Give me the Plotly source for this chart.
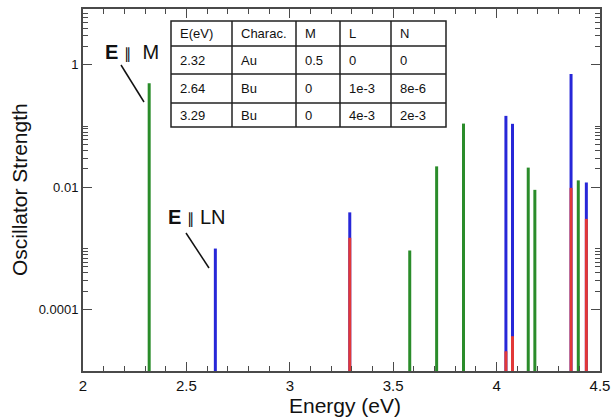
import plotly.graph_objects as go

# ---- data ----
energies = [2.32, 2.64, 3.29, 3.58, 3.71, 3.84, 4.045, 4.077, 4.153, 4.185, 4.36, 4.395, 4.434]
osc_M = [0.5, 0, 0, 9.3e-4, 0.022, 0.11, 0, 0, 0.021, 0.0091, 0, 0.013, 0]
osc_L = [0, 1.0e-3, 3.9e-3, 0, 0, 0, 0.147, 0.109, 0, 0, 0.71, 0, 0.012]
osc_N = [0, 8e-6, 1.5e-3, 0, 0, 0, 2.1e-5, 3.7e-5, 0, 0, 0.0098, 0, 3.05e-3]

table_header = ["E(eV)", "Charac.", "M", "L", "N"]
table_rows = [
    ["2.32", "Au", "0.5", "0", "0"],
    ["2.64", "Bu", "0", "1e-3", "8e-6"],
    ["3.29", "Bu", "0", "4e-3", "2e-3"],
]

x_tickvals = [2, 2.5, 3, 3.5, 4, 4.5]
x_ticktext = ["2", "2.5", "3", "3.5", "4", "4.5"]
y_tickvals = [1, 0.01, 0.0001]
y_ticktext = ["1", "0.01", "0.0001"]
x_title = "Energy (eV)"
y_title = "Oscillator Strength"

Y_BASE = 1e-5
FONT = "Liberation Sans, Arial, Helvetica, sans-serif"
COLORS = {"M": "#2a8c2a", "L": "#2727d8", "N": "#e23838"}

W, H = 614, 418
L_M, R_M, T_M, B_M = 83, 14, 9, 47
PW, PH = W - L_M - R_M, H - T_M - B_M


def px(x):
    return (x - L_M) / PW


def py(y):
    return (H - B_M - y) / PH


def sticks(vals):
    xs, ys = [], []
    for e, v in zip(energies, vals):
        if v and v > 0:
            xs += [e, e, None]
            ys += [Y_BASE, v, None]
    return xs, ys


fig = go.Figure()
for name, vals in [("M", osc_M), ("L", osc_L), ("N", osc_N)]:
    xs, ys = sticks(vals)
    fig.add_trace(go.Scatter(x=xs, y=ys, mode="lines", name=name,
                             line=dict(color=COLORS[name], width=3),
                             showlegend=False, hoverinfo="skip"))

axis_col = "#4a4a4a"
fig.update_xaxes(range=[2, 4.5], tickvals=x_tickvals, ticktext=x_ticktext,
                 ticks="inside", ticklen=9, tickwidth=1.3, tickcolor=axis_col,
                 minor=dict(dtick=0.1, tick0=2, ticks="inside", ticklen=5,
                            tickwidth=1.3, tickcolor=axis_col),
                 showline=True, linecolor=axis_col, linewidth=2, mirror="ticks",
                 showgrid=False, zeroline=False, automargin=False,
                 tickfont=dict(family=FONT, size=15, color="#111"))

minor_y = [m * 10 ** k for k in (0, -2, -4) for m in range(2, 10)] + [0.1, 0.001]
fig.update_yaxes(type="log", range=[-5, 0.913], tickvals=y_tickvals, ticktext=y_ticktext,
                 ticks="inside", ticklen=9, tickwidth=1.3, tickcolor=axis_col,
                 minor=dict(tickvals=minor_y, ticks="inside", ticklen=5,
                            tickwidth=1.3, tickcolor=axis_col),
                 showline=True, linecolor=axis_col, linewidth=2, mirror="ticks",
                 showgrid=False, zeroline=False, automargin=False,
                 tickfont=dict(family=FONT, size=13, color="#111"))

shapes = []
annotations = []

# axis titles
annotations.append(dict(xref="paper", yref="paper", x=px(345), y=py(405), text=x_title,
                        showarrow=False, xanchor="center", yanchor="middle",
                        font=dict(family=FONT, size=21, color="#111")))
annotations.append(dict(xref="paper", yref="paper", x=px(19), y=py(190), text=y_title,
                        showarrow=False, xanchor="center", yanchor="middle", textangle=-90,
                        font=dict(family=FONT, size=21, color="#111")))

# table
col_edges = [171, 232, 296, 340, 391, 446]
row_edges = [21, 46, 74, 103, 127]
tab_col = "#222"
shapes.append(dict(type="rect", xref="paper", yref="paper",
                   x0=px(col_edges[0]), x1=px(col_edges[-1]),
                   y0=py(row_edges[-1]), y1=py(row_edges[0]),
                   line=dict(color=tab_col, width=1.5), fillcolor="white", layer="above"))
for c in col_edges[1:-1]:
    shapes.append(dict(type="line", xref="paper", yref="paper",
                       x0=px(c), x1=px(c), y0=py(row_edges[-1]), y1=py(row_edges[0]),
                       line=dict(color=tab_col, width=1.5)))
for r in row_edges[1:-1]:
    shapes.append(dict(type="line", xref="paper", yref="paper",
                       x0=px(col_edges[0]), x1=px(col_edges[-1]), y0=py(r), y1=py(r),
                       line=dict(color=tab_col, width=1.5)))
all_rows = [table_header] + table_rows
for ri, row in enumerate(all_rows):
    yc = (row_edges[ri] + row_edges[ri + 1]) / 2
    for ci, txt in enumerate(row):
        annotations.append(dict(xref="paper", yref="paper", x=px(col_edges[ci] + 7), y=py(yc),
                                text=txt, showarrow=False, xanchor="left", yanchor="middle",
                                font=dict(family=FONT, size=13, color="#111")))

# labels with pointer lines
PAR = "<span style='font-family:DejaVu Sans;font-size:15px'>\u2225</span>"
labels = [
    ("<b>E</b> " + PAR + "&nbsp; M", 132, 52, (121, 65), (144, 102)),
    ("<b>E</b> " + PAR + " LN", 197, 217, (186, 233), (209, 268)),
]
for txt, cx, cy, p0, p1 in labels:
    annotations.append(dict(xref="paper", yref="paper", x=px(cx), y=py(cy), text=txt,
                            showarrow=False, xanchor="center", yanchor="middle",
                            font=dict(family=FONT, size=20, color="#111")))
    shapes.append(dict(type="line", xref="paper", yref="paper",
                       x0=px(p0[0]), y0=py(p0[1]), x1=px(p1[0]), y1=py(p1[1]),
                       line=dict(color="#111", width=1.5)))

fig.update_layout(width=W, height=H, margin=dict(l=L_M, r=R_M, t=T_M, b=B_M),
                  paper_bgcolor="white", plot_bgcolor="white",
                  shapes=shapes, annotations=annotations, showlegend=False)

fig.write_html("out.html", config={"displayModeBar": False},
               post_script="document.body.style.margin='0';")
